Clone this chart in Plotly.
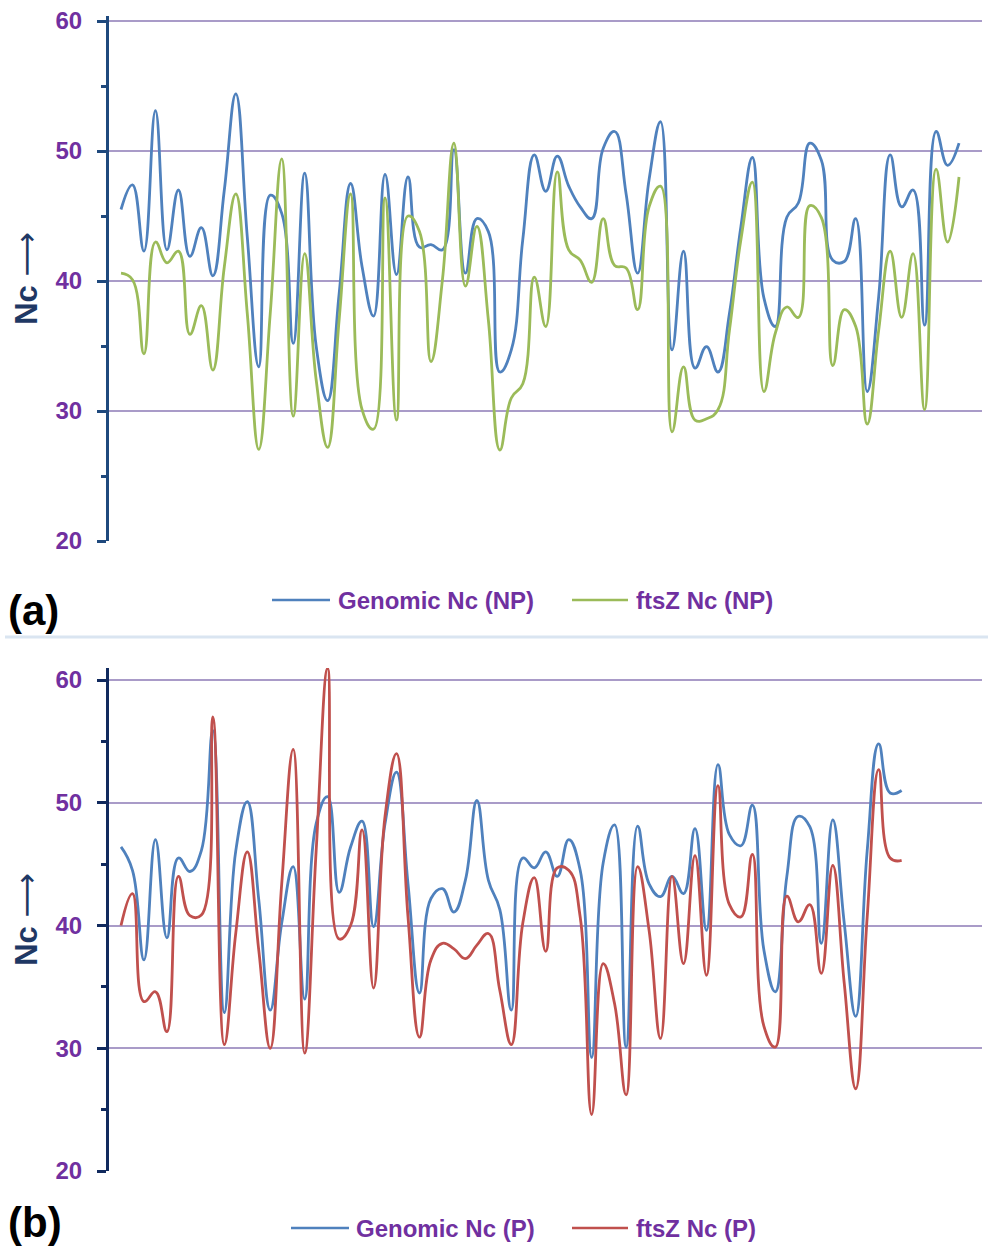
import plotly.graph_objects as go

# ---------------- data ----------------
idx_a = list(range(74))
idx_b = list(range(69))

genomic_np = [45.5, 47.4, 42.3, 53.1, 42.4, 47.0, 41.9, 44.1, 40.4, 47.0,
              54.4, 43.4, 33.4, 46.6, 45.2, 35.2, 48.3, 35.0, 30.8, 39.0,
              47.5, 41.1, 37.3, 48.2, 40.5, 48.0, 42.6, 42.8, 42.4, 50.1,
              40.6, 44.8, 43.8, 33.0, 34.7, 43.2, 49.7, 46.9, 49.6, 47.3,
              45.7, 44.8, 50.2, 51.5, 46.7, 40.6, 47.8, 52.25, 34.7, 42.3,
              33.3, 34.95, 33.0, 37.5, 44.2, 49.5, 38.7, 36.5, 44.9, 46.0,
              50.6, 49.3, 41.6, 41.5, 44.8, 31.5, 38.8, 49.7, 45.7, 47.0,
              36.6, 51.5, 48.9, 50.6]

ftsz_np = [40.6, 40.1, 34.4, 43.0, 41.4, 42.3, 35.9, 38.1, 33.15, 41.1,
           46.7, 37.5, 27.05, 37.5, 49.4, 29.6, 42.1, 32.4, 27.2, 37.0,
           46.7, 30.1, 28.6, 46.4, 29.3, 45.0, 43.8, 33.8, 40.1, 50.6,
           39.6, 44.2, 37.0, 27.0, 31.0, 32.1, 40.3, 36.5, 48.4, 42.4,
           41.6, 39.9, 44.8, 41.2, 41.0, 37.8, 45.7, 47.3, 28.4, 33.4,
           29.3, 29.4, 30.1, 36.2, 43.2, 47.6, 31.5, 36.0, 38.0, 37.2,
           45.8, 44.9, 33.5, 37.8, 36.5, 29.0, 36.2, 42.3, 37.2, 42.1,
           30.1, 48.6, 43.0, 48.0]

genomic_p = [46.4, 44.5, 37.2, 47.0, 39.0, 45.5, 44.4, 46.1, 55.9, 32.9,
             46.1, 50.1, 42.1, 33.1, 40.2, 44.8, 34.0, 48.3, 50.5, 42.7,
             46.4, 48.5, 39.9, 48.3, 52.5, 43.4, 34.5, 42.2, 43.0, 41.1,
             43.7, 50.2, 43.7, 41.3, 33.1, 45.5, 44.7, 46.0, 44.0, 47.0,
             44.5, 29.25, 45.1, 48.2, 30.1, 48.1, 43.4, 42.35, 44.0, 42.6,
             47.9, 39.6, 53.1, 47.4, 46.5, 49.8, 38.0, 34.6, 44.0, 48.9,
             48.05, 38.55, 48.6, 40.2, 32.6, 46.1, 54.8, 50.8, 51.0]

ftsz_p = [40.0, 42.6, 33.8, 34.6, 31.35, 44.0, 40.8, 40.85, 57.0, 30.3,
          39.4, 46.0, 38.0, 30.0, 43.4, 54.35, 29.6, 46.1, 60.95, 38.9,
          40.0, 47.8, 34.9, 48.9, 54.0, 40.7, 30.9, 37.2, 38.55, 38.1,
          37.3, 38.4, 39.35, 34.7, 30.3, 40.2, 43.9, 37.9, 44.7, 44.5,
          40.7, 24.6, 36.9, 33.6, 26.2, 44.8, 39.6, 30.8, 44.0, 36.9,
          45.7, 35.95, 51.4, 41.7, 40.7, 45.8, 31.8, 30.1, 42.4, 40.3,
          41.7, 36.1, 44.9, 35.3, 26.7, 40.7, 52.7, 45.5, 45.3]

y_ticks = [20, 30, 40, 50, 60]
y_ticklabels = ["20", "30", "40", "50", "60"]

# ---------------- styling ----------------
W, H = 988, 1247
BLUE, GREEN, RED = "#4F81BD", "#9BBB59", "#C0504D"
PURPLE = "#7030A0"
GRID = "#A99BC8"
ARIAL = "Liberation Sans, Arial, sans-serif"


def px(x):
    return x / W


def py(y):
    return 1 - y / H


fig = go.Figure()


def add_line(xs, ys, color, name, xa, ya):
    fig.add_trace(go.Scatter(
        x=xs, y=ys, mode="lines", name=name, showlegend=False,
        line=dict(color=color, width=2.8, shape="spline", smoothing=1.25),
        xaxis=xa, yaxis=ya, hoverinfo="x+y+name"))


add_line(idx_a, genomic_np, BLUE, "Genomic Nc (NP)", "x", "y")
add_line(idx_a, ftsz_np, GREEN, "ftsZ Nc (NP)", "x", "y")
add_line(idx_b, genomic_p, BLUE, "Genomic Nc (P)", "x2", "y2")
add_line(idx_b, ftsz_p, RED, "ftsZ Nc (P)", "x2", "y2")

x_dom = [px(109), px(982)]
x_rng = [-1.045, 75.0]

title_text = "<b>Nc</b> <span style=\"font-family:DejaVu Sans\">⟶</span>"


def yaxis_cfg(dom, rng, axcol):
    return dict(
        domain=dom, range=rng, tickmode="array", tickvals=y_ticks,
        ticktext=y_ticklabels,
        showgrid=True, gridcolor=GRID, gridwidth=2, zeroline=False,
        showline=True, linecolor=axcol, linewidth=3,
        ticks="outside", ticklen=9, tickwidth=3, tickcolor=axcol,
        minor=dict(tickmode="array", tickvals=[25, 35, 45, 55], ticks="outside",
                   ticklen=5, tickwidth=2.5, tickcolor=axcol, showgrid=False),
        tickfont=dict(family=ARIAL, size=24, color=PURPLE, weight="bold"),
        ticklabelstandoff=10,
        title=dict(text=title_text, standoff=9,
                   font=dict(family=ARIAL, size=31, color="#1F3864")),
        fixedrange=True)


fig.update_layout(
    width=W, height=H,
    margin=dict(l=0, r=0, t=0, b=0, autoexpand=False),
    paper_bgcolor="white", plot_bgcolor="white",
    showlegend=False,
    xaxis=dict(domain=x_dom, range=x_rng, visible=False, anchor="y"),
    xaxis2=dict(domain=x_dom, range=x_rng, visible=False, anchor="y2"),
    yaxis=yaxis_cfg([py(541), py(16)], [20, 60.385], "#1F497D"),
    yaxis2=yaxis_cfg([py(1171), py(668)], [20, 60.98], "#112A5E"),
)

# separator between the two panels
fig.add_shape(type="line", xref="paper", yref="paper",
              x0=px(5), x1=px(988), y0=py(637), y1=py(637),
              line=dict(color="#DAE5F1", width=3))

# legends (drawn manually)
legend_items = [
    (272, 330, 336, 600, BLUE, "Genomic Nc (NP)"),
    (572, 628, 634, 600, GREEN, "ftsZ Nc (NP)"),
    (291, 349, 354, 1228, BLUE, "Genomic Nc (P)"),
    (572, 628, 634, 1228, RED, "ftsZ Nc (P)"),
]
for x0, x1, xt, yc, col, label in legend_items:
    fig.add_shape(type="line", xref="paper", yref="paper",
                  x0=px(x0), x1=px(x1), y0=py(yc), y1=py(yc),
                  line=dict(color=col, width=2.6))
    fig.add_annotation(xref="paper", yref="paper", x=px(xt), y=py(yc),
                       xanchor="left", yanchor="middle", showarrow=False,
                       text="<b>%s</b>" % label,
                       font=dict(family=ARIAL, size=24, color=PURPLE))

# panel letters
for lab, yc in [("(a)", 610), ("(b)", 1222)]:
    fig.add_annotation(xref="paper", yref="paper", x=px(6), y=py(yc),
                       xanchor="left", yanchor="middle", showarrow=False,
                       text="<b>%s</b>" % lab,
                       font=dict(family=ARIAL, size=42, color="black"))

fig.write_html("out.html")
